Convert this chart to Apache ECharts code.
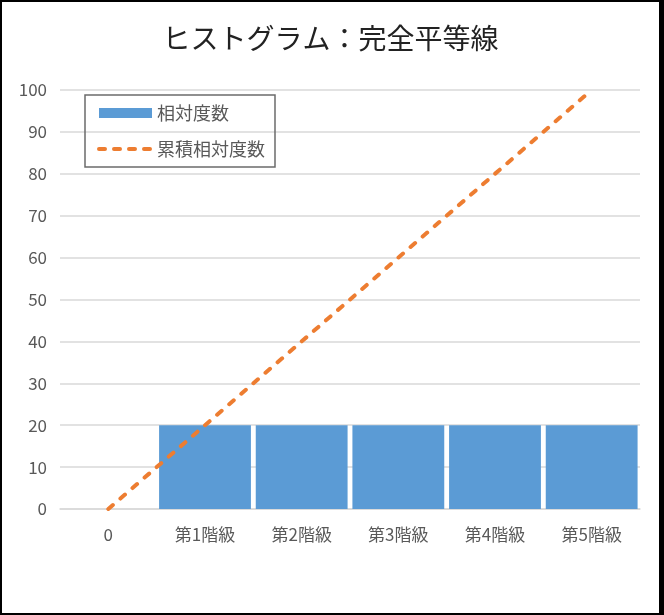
<!DOCTYPE html>
<html>
<head>
<meta charset="utf-8">
<script src="https://cdn.jsdelivr.net/npm/echarts@6/dist/echarts.min.js"></script>
<style>
  html,body{margin:0;padding:0;background:#fff;}
  #chart{
    width:664px;height:615px;box-sizing:border-box;
    border-style:solid;border-color:#000;
    border-width:2px 5px 2px 2px;
  }
</style>
</head>
<body>
<div id="chart"></div>
<script>
// チャートのデータ
const categories=["0","第1階級","第2階級","第3階級","第4階級","第5階級"];
const relFreq=[null,20,20,20,20,20];
const cumRelFreq=[0,20,40,60,80,100];

const font="'Noto Sans CJK JP', 'Noto Sans', sans-serif";

const chart=echarts.init(document.getElementById("chart"));

chart.setOption({
  animation:false,
  textStyle:{fontFamily:font},
  title:{
    text:"ヒストグラム：完全平等線",
    left:"center",
    top:17,
    textStyle:{fontSize:28,fontWeight:"normal",color:"#222",fontFamily:font}
  },
  legend:{
    orient:"vertical",
    left:83,
    top:93,
    padding:[9,10,9,12],
    borderColor:"#6b6b6b",
    borderWidth:1.5,
    itemWidth:53,
    itemHeight:10,
    itemGap:18,
    textStyle:{fontSize:18,color:"#595959",fontFamily:font},
    data:[
      {name:"相対度数",icon:"rect"},
      {
        name:"累積相対度数",
        itemStyle:{color:"transparent",borderWidth:0},
        lineStyle:{color:"#ED7D31",width:4,type:[6,9],cap:"round"}
      }
    ]
  },
  grid:{left:58,right:19,top:88,bottom:104,containLabel:false},
  xAxis:{
    type:"category",
    data:categories,
    axisTick:{show:false},
    axisLine:{lineStyle:{color:"#D9D9D9",width:1.5}},
    axisLabel:{fontSize:17,color:"#595959",margin:17,fontFamily:font}
  },
  yAxis:{
    type:"value",
    min:0,
    max:100,
    interval:10,
    axisLine:{show:false},
    axisTick:{show:false},
    axisLabel:{fontSize:17,color:"#595959",margin:13,fontFamily:font},
    splitLine:{lineStyle:{color:"#D9D9D9",width:1.5}}
  },
  series:[
    {
      name:"相対度数",
      type:"bar",
      data:relFreq,
      barCategoryGap:"5%",
      itemStyle:{color:"#5B9BD5"}
    },
    {
      name:"累積相対度数",
      type:"line",
      data:cumRelFreq,
      symbol:"none",
      lineStyle:{color:"#ED7D31",width:4,type:[6,10],cap:"round"},
      itemStyle:{color:"#ED7D31"}
    }
  ]
});

window.addEventListener("resize",()=>chart.resize());
</script>
</body>
</html>
